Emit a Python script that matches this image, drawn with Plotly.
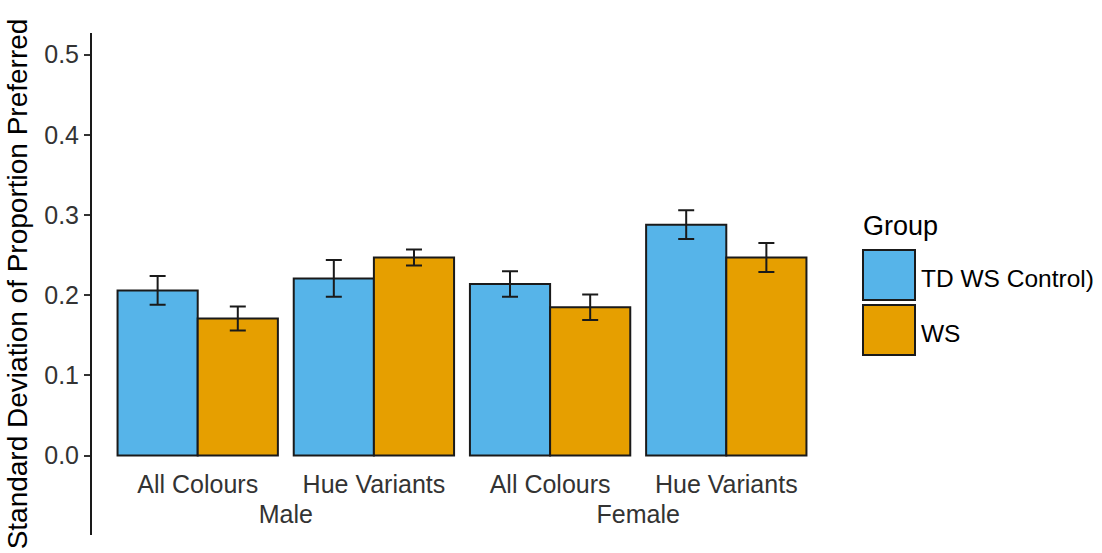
import plotly.graph_objects as go

sexes = ["Male", "Male", "Female", "Female"]
conditions = ["All Colours", "Hue Variants", "All Colours", "Hue Variants"]
groups = ["TD WS Control)", "WS"]
td_values = [0.206, 0.221, 0.214, 0.288]
td_se = [0.018, 0.023, 0.016, 0.018]
ws_values = [0.171, 0.247, 0.185, 0.247]
ws_se = [0.015, 0.010, 0.016, 0.018]
colors = ["#56B4E9", "#E69F00"]
y_ticks = [0.0, 0.1, 0.2, 0.3, 0.4, 0.5]

FONT = "Liberation Sans, Arial, sans-serif"

fig = go.Figure()
for name, vals, se, col in [(groups[0], td_values, td_se, colors[0]),
                            (groups[1], ws_values, ws_se, colors[1])]:
    fig.add_trace(go.Bar(
        x=[sexes, conditions], y=vals, name=name,
        marker=dict(color=col, line=dict(color="#1a1a1a", width=2)),
        error_y=dict(type="data", array=se, visible=True, color="#1a1a1a",
                     thickness=2, width=8),
        showlegend=False,
    ))

W, H = 1102, 553
L, R, T, B = 92, 270, 33, 18
pw, ph = W - L - R, H - T - B

def px_x(x):
    return (x - L) / pw

def px_y(y):
    return (H - B - y) / ph

fig.update_layout(
    width=W, height=H,
    margin=dict(l=L, r=R, t=T, b=B),
    plot_bgcolor="white", paper_bgcolor="white",
    barmode="group", bargap=0.09, bargroupgap=0,
    font=dict(family=FONT, size=24, color="#333333"),
    xaxis=dict(type="multicategory", range=[-0.6, 3.6], anchor="free",
               position=px_y(467), showline=False, ticks="", showgrid=False,
               showdividers=False, automargin=False,
               tickfont=dict(size=25, color="#333333")),
    yaxis=dict(range=[-0.099, 0.527], tickvals=y_ticks, tickformat=".1f",
               showline=True, linecolor="#1a1a1a", linewidth=2,
               ticks="outside", ticklen=6, tickwidth=2, tickcolor="#333333",
               showgrid=False, zeroline=False, automargin=False,
               tickfont=dict(size=25, color="#333333"),
               title=dict(text="Standard Deviation of Proportion Preferred",
                          font=dict(size=28, color="#000000"), standoff=8)),
)

# legend drawn manually (large keys like ggplot)
fig.add_annotation(xref="paper", yref="paper", x=px_x(861), y=px_y(226),
                   text="Group", showarrow=False, xanchor="left", yanchor="middle",
                   font=dict(size=27, color="#000000"))
for i, (name, col) in enumerate(zip(groups, colors)):
    y0 = 250 + i * 55
    fig.add_shape(type="rect", xref="paper", yref="paper",
                  x0=px_x(863), x1=px_x(915), y0=px_y(y0), y1=px_y(y0 + 50),
                  fillcolor=col, line=dict(color="#1a1a1a", width=2))
    fig.add_annotation(xref="paper", yref="paper", x=px_x(919), y=px_y(y0 + 28),
                       text=name, showarrow=False, xanchor="left", yanchor="middle",
                       font=dict(size=24.5, color="#000000"))

fig.write_html("out.html", config={"displayModeBar": False},
               post_script="document.body.style.margin='0';")
